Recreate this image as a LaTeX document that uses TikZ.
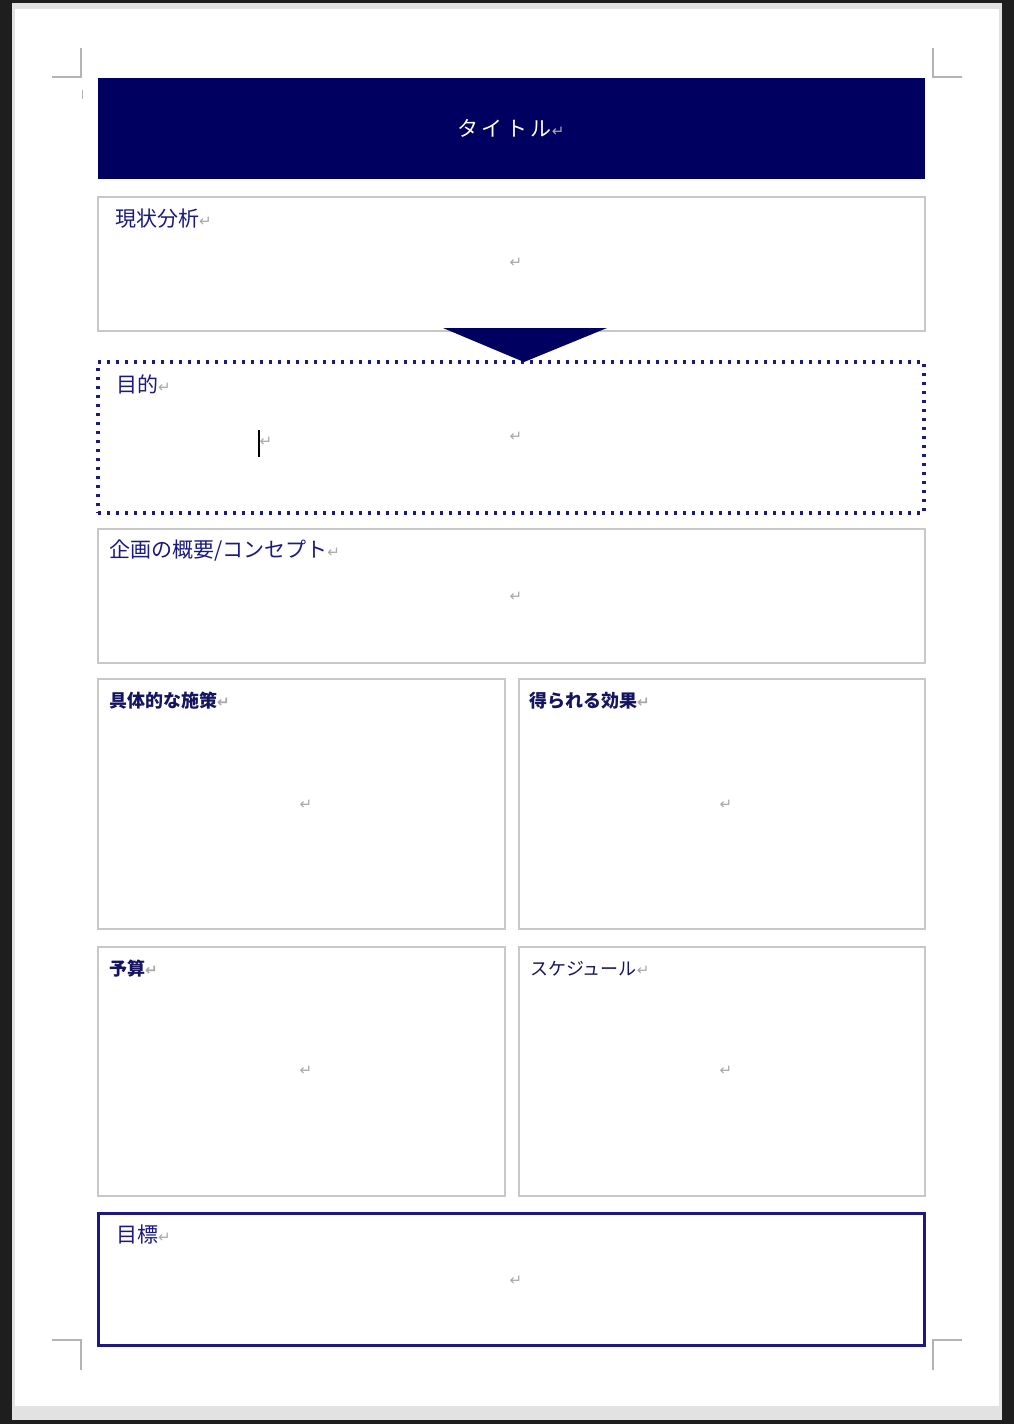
\documentclass[tikz,border=0pt]{standalone}
\usepackage{fontspec}
\newfontfamily\jp{Noto Sans CJK JP}
\newfontfamily\sym{DejaVu Sans}
\definecolor{navy}{HTML}{000060}
\definecolor{lbl}{HTML}{1A1A80}
\definecolor{lbldark}{HTML}{141460}
\definecolor{bordergray}{HTML}{C8C8C8}
\definecolor{markgray}{HTML}{B4B4B4}
\definecolor{retgray}{HTML}{A8A8A8}
\definecolor{darkbg}{HTML}{1E1E1E}
\definecolor{pageedge}{HTML}{E2E2E2}
\newcommand{\ret}{{\sym\fontsize{15}{15}\selectfont\textcolor{retgray}{↵}}}
\tikzset{
  panel/.style={draw=bordergray, line width=1.6pt, fill=white, rectangle, inner sep=0pt},
  dotpanel/.style={draw=lbl, line width=3.2pt, dash pattern=on 3pt off 6pt, rectangle, inner sep=0pt},
  goalpanel/.style={draw=lbl, line width=3pt, fill=white, rectangle, inner sep=0pt},
  titlebar/.style={fill=navy, draw=navy, rectangle, inner sep=0pt},
  biglabel/.style={anchor=west, inner sep=0pt, text=lbl, font=\jp\fontsize{21}{21}\selectfont},
  smalllabel/.style={anchor=west, inner sep=0pt, text=lbldark, font=\jp\bfseries\fontsize{18}{18}\selectfont},
  retmark/.style={inner sep=0pt},
  cropmark/.style={draw=markgray, line width=1.5pt}
}
\begin{document}
\begin{tikzpicture}[x=1pt,y=-1pt]
\useasboundingbox (0,0) rectangle (1014,1424);
% page background
\fill[darkbg] (0,0) rectangle (1014,1424);
\fill[pageedge] (12,3) rectangle (1002,1420);
\fill[white] (15,9) rectangle (999,1406);
% crop marks
\draw[cropmark] (52,77) -- (81,77) -- (81,48);
\draw[cropmark] (962,77) -- (933,77) -- (933,48);
\draw[cropmark] (52,1340) -- (81,1340) -- (81,1370);
\draw[cropmark] (962,1340) -- (933,1340) -- (933,1370);
\draw[cropmark, line width=1pt] (82,90) -- (82,99);
% title
\node[titlebar, minimum width=826pt, minimum height=100pt] (title) at (511,128) {};
\node[inner sep=0pt, text=white, font=\jp\fontsize{21}{21}\selectfont] (titletext) at (title.center) {タ\,イ\,ト\,ル\ret};
% current analysis
\node[panel, minimum width=827pt, minimum height=134pt] (analysis) at (511.5,264) {};
\node[biglabel] (analysisL) at (115,219) {現状分析\ret};
\node[retmark] (analysisR) at (516,263) {\ret};
% purpose
\node[dotpanel, minimum width=826pt, minimum height=151pt] (purpose) at (511,437.5) {};
\node[biglabel] (purposeL) at (116,384) {目的\ret};
\node[retmark] (purposeR) at (516,437) {\ret};
\node[retmark] (purposeC) at (266,442) {\ret};
\coordinate (cursorTop) at (259,430);
\coordinate (cursorBot) at (259,457);
\draw[line width=1.8pt, black] (cursorTop) -- (cursorBot);
% arrow triangle
\coordinate (triL) at (443,328);
\coordinate (triR) at (607,328);
\coordinate (triT) at (524,362);
\fill[navy] (triL) -- (triR) -- (triT) -- cycle;
% concept
\node[panel, minimum width=827pt, minimum height=134pt] (concept) at (511.5,596) {};
\node[biglabel] (conceptL) at (109,551) {企画の概要/コンセプト\ret};
\node[retmark] (conceptR) at (516,597) {\ret};
% measures / effects
\node[panel, minimum width=407pt, minimum height=250pt] (measures) at (301.5,804) {};
\node[smalllabel] (measuresL) at (109,701) {具体的な施策\ret};
\node[retmark] (measuresR) at (306,805) {\ret};
\node[panel, minimum width=406pt, minimum height=250pt] (effects) at (722,804) {};
\node[smalllabel] (effectsL) at (529,701) {得られる効果\ret};
\node[retmark] (effectsR) at (726,805) {\ret};
% budget / schedule
\node[panel, minimum width=407pt, minimum height=249pt] (budget) at (301.5,1071.5) {};
\node[smalllabel] (budgetL) at (109,969) {予算\ret};
\node[retmark] (budgetR) at (306,1071) {\ret};
\node[panel, minimum width=406pt, minimum height=249pt] (schedule) at (722,1071.5) {};
\node[smalllabel, font=\jp\fontsize{18}{18}\selectfont] (scheduleL) at (530,969) {スケジュール\ret};
\node[retmark] (scheduleR) at (726,1071) {\ret};
% goal
\node[goalpanel, minimum width=826pt, minimum height=132pt] (goal) at (511,1279) {};
\node[biglabel] (goalL) at (116,1235) {目標\ret};
\node[retmark] (goalR) at (516,1281) {\ret};
\end{tikzpicture}
\end{document}
